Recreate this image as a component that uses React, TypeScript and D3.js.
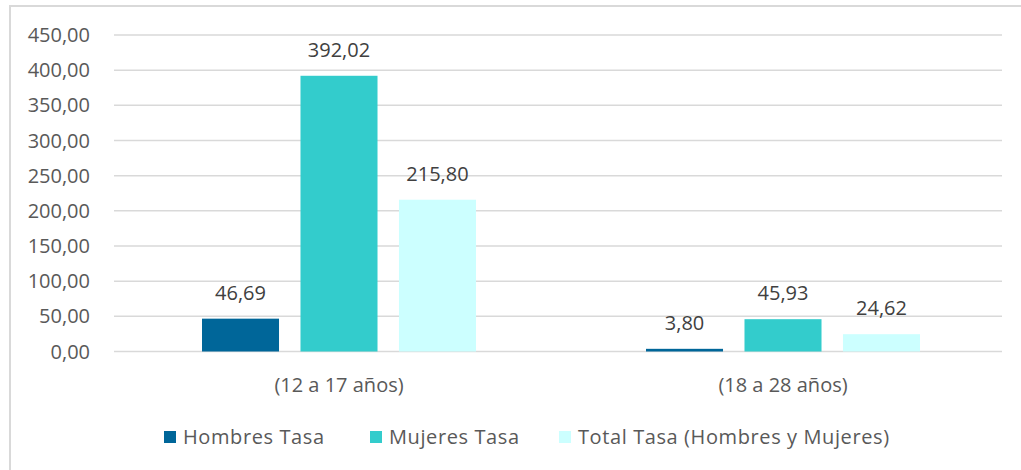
import { useEffect, useRef } from 'react';
import * as d3 from 'd3';

// data
const categories = ['(12 a 17 años)', '(18 a 28 años)'];
const seriesNames = ['Hombres Tasa', 'Mujeres Tasa', 'Total Tasa (Hombres y Mujeres)'];
const seriesColors = ['#006699', '#33CCCC', '#CCFFFF'];
const hombres = [46.69, 3.8];
const mujeres = [392.02, 45.93];
const total = [215.8, 24.62];
const yTicks = [0, 50, 100, 150, 200, 250, 300, 350, 400, 450];

const fmt = (v: number) => v.toFixed(2).replace('.', ',');

const App = () => {
  const svgRef = useRef<SVGSVGElement>(null);

  useEffect(() => {
    const svg = d3.select(svgRef.current);
    svg.selectAll('*').remove();

    const W = 1021, H = 470;
    const left = 114, right = 1002, top = 35, bottom = 351.5;
    const font = '"Open Sans", sans-serif';
    const textColor = '#595959';

    // frame
    svg.append('rect')
      .attr('x', 10).attr('y', 6)
      .attr('width', W + 10).attr('height', H + 10)
      .attr('fill', '#fff').attr('stroke', '#d9d9d9').attr('stroke-width', 2);

    const y = d3.scaleLinear().domain([0, 450]).range([bottom, top]);
    const x0 = d3.scaleBand<string>().domain(categories).range([left + 3, right + 3]).padding(0);
    const x1 = d3.scaleBand<number>().domain([0, 1, 2])
      .range([0, x0.bandwidth()]).paddingInner(0.218).paddingOuter(0.863);

    // grid
    svg.append('g').selectAll('line')
      .data(yTicks).enter().append('line')
      .attr('x1', left).attr('x2', right)
      .attr('y1', d => y(d)).attr('y2', d => y(d))
      .attr('stroke', '#d9d9d9').attr('stroke-width', 1.5);

    // y tick labels
    svg.append('g').selectAll('text')
      .data(yTicks).enter().append('text')
      .attr('x', 90).attr('y', d => y(d)).attr('dy', '0.35em')
      .attr('text-anchor', 'end')
      .attr('font-family', font).attr('font-size', 20).attr('fill', textColor)
      .text(d => fmt(d));

    const series = [hombres, mujeres, total];
    const bars = categories.flatMap((c, ci) =>
      series.map((s, si) => ({ c, si, v: s[ci] })));

    const bg = svg.append('g');
    bg.selectAll('rect')
      .data(bars).enter().append('rect')
      .attr('x', d => (x0(d.c) as number) + (x1(d.si) as number))
      .attr('y', d => y(d.v))
      .attr('width', x1.bandwidth())
      .attr('height', d => y(0) - y(d.v))
      .attr('fill', d => seriesColors[d.si]);

    bg.selectAll('text')
      .data(bars).enter().append('text')
      .attr('x', d => (x0(d.c) as number) + (x1(d.si) as number) + x1.bandwidth() / 2)
      .attr('y', d => y(d.v) - 19)
      .attr('text-anchor', 'middle')
      .attr('font-family', font).attr('font-size', 20).attr('fill', '#404040')
      .text(d => fmt(d.v));

    // category labels
    svg.append('g').selectAll('text')
      .data(categories).enter().append('text')
      .attr('x', d => (x0(d) as number) + x0.bandwidth() / 2)
      .attr('y', 392)
      .attr('text-anchor', 'middle')
      .attr('font-family', font).attr('font-size', 20).attr('fill', textColor)
      .text(d => d);

    // legend
    const legendX = [164, 370, 559];
    const lg = svg.append('g');
    seriesNames.forEach((name, i) => {
      lg.append('rect')
        .attr('x', legendX[i]).attr('y', 431)
        .attr('width', 12).attr('height', 12)
        .attr('fill', seriesColors[i]);
      lg.append('text')
        .attr('x', legendX[i] + 19).attr('y', 444)
        .attr('font-family', font).attr('font-size', 20).attr('fill', textColor)
        .attr('letter-spacing', 0.6)
        .text(name);
    });
  }, []);

  return (
    <svg ref={svgRef} width={1021} height={470}
      style={{ position: 'absolute', left: 0, top: 0, background: '#fff' }} />
  );
};

export default App;
